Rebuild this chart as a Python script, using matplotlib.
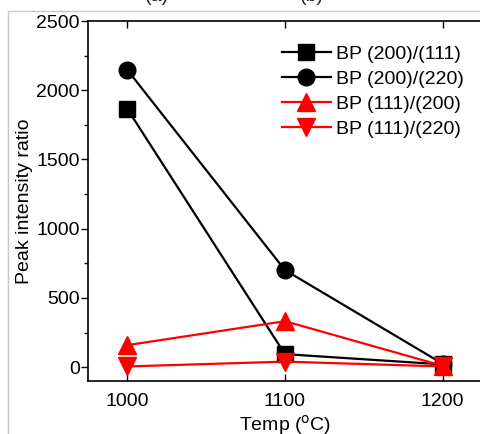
import matplotlib
matplotlib.use("Agg")
import matplotlib.pyplot as plt
from matplotlib.ticker import MultipleLocator
from matplotlib.lines import Line2D

plt.rcParams['font.family'] = ['Liberation Sans', 'DejaVu Sans']

temps = [1000, 1100, 1200]
s_200_111 = [1864, 94, 20]
s_200_220 = [2146, 701, 25]
s_111_200 = [159, 332, 10]
s_111_220 = [5, 40, 5]
labels = ["BP (200)/(111)", "BP (200)/(220)", "BP (111)/(200)", "BP (111)/(220)"]
xticks = [1000, 1100, 1200]
yticks = [0, 500, 1000, 1500, 2000, 2500]

fig = plt.figure(figsize=(4.8, 4.34), dpi=100)
ax = fig.add_axes([88/480, 1-381/434, 392/480 + 0.004, (381-21)/434])

ax.plot(temps, s_200_111, color='black', lw=1.6, marker='s', ms=11, label=labels[0])
ax.plot(temps, s_200_220, color='black', lw=1.6, marker='o', ms=12, label=labels[1])
ax.plot(temps, s_111_200, color='#ff0000', lw=1.6, marker='^', ms=12.5, label=labels[2])
ax.plot(temps, s_111_220, color='#ff0000', lw=1.6, marker='v', ms=12.5, label=labels[3])

ax.set_xlim(975, 1225)
ax.set_ylim(-100, 2500)
ax.set_xticks(xticks)
ax.set_yticks(yticks)
ax.yaxis.set_minor_locator(MultipleLocator(250))
ax.tick_params(axis='x', direction='in', top=True, length=5, width=1, labelsize=14, pad=9)
ax.tick_params(axis='y', which='major', direction='out', length=5, width=1, labelsize=14, pad=1)
ax.tick_params(axis='y', which='minor', direction='out', length=3, width=1)
for sp in ax.spines.values():
    sp.set_linewidth(1.2)

ax.set_xlabel("Temp ($^{\\mathrm{o}}$C)", fontsize=14, labelpad=2)
ax.set_ylabel("Peak intensity ratio", fontsize=14, labelpad=2)

ax.legend(loc='upper right', bbox_to_anchor=(0.99, 0.97), frameon=False, fontsize=14,
          handlelength=2.5, handletextpad=0.3, labelspacing=0.38, borderaxespad=0.3)

# gray frame of the original panel (cropped)
fig.add_artist(Line2D([8/480, 8/480], [0, 1-11/434], color='#c8c8c8', lw=1, transform=fig.transFigure))
fig.add_artist(Line2D([8/480, 1], [1-11/434, 1-11/434], color='#c8c8c8', lw=1, transform=fig.transFigure))
fig.text(157/480, 1-5/434, "(a)", fontsize=14, ha='center', va='bottom', color='#222222')
fig.text(312/480, 1-5/434, "(b)", fontsize=14, ha='center', va='bottom', color='#222222')

fig.savefig("out.png", dpi=100)
